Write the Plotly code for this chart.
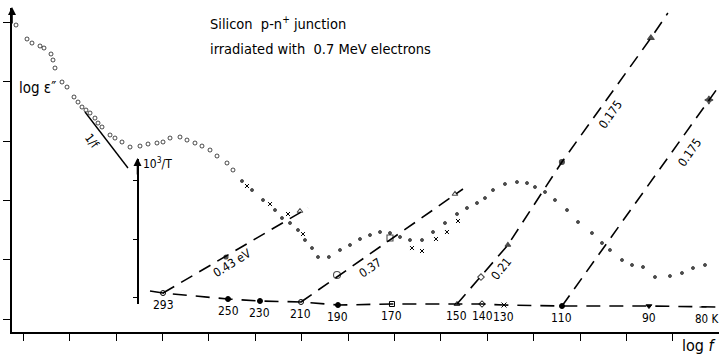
import plotly.graph_objects as go

W, H = 719, 356
FONT = "Liberation Sans Narrow, DejaVu Sans Condensed, Roboto, sans-serif"

# ---------------------------------------------------------------
# Dielectric loss spectrum: log eps'' against log f (decades, arbitrary origin)
# ---------------------------------------------------------------
loss_logf = [-0.157, 0.080, 0.187, 0.360, 0.446, 0.597, 0.640, 0.683, 0.834, 0.942,
             1.093, 1.179, 1.265, 1.351, 1.438, 1.545, 1.610, 1.696, 1.869, 1.976,
             2.127, 2.300, 2.515, 2.688, 2.881, 3.011, 3.162, 3.377, 3.528, 3.700,
             3.851, 4.024, 4.175, 4.390, 4.519, 4.713, 4.929, 5.166, 5.425, 5.575,
             5.748, 5.920, 6.071, 6.222, 6.351, 6.586, 6.825, 7.041, 7.256, 7.472,
             7.688, 7.903, 8.119, 8.334, 8.593, 8.830, 9.088, 9.347, 9.562, 9.778,
             9.950, 10.123, 10.381, 10.640, 10.856, 11.028, 11.244, 11.459, 11.718, 11.955,
             12.256, 12.472, 12.644, 12.903, 13.119, 13.356, 13.614, 13.937, 14.196, 14.433,
             14.692]
loss_logeps = [4.958, 4.722, 4.654, 4.604, 4.570, 4.469, 4.368, 4.233, 3.997, 3.912,
               3.744, 3.659, 3.575, 3.524, 3.474, 3.389, 3.305, 3.238, 3.103, 3.052,
               2.985, 2.900, 2.917, 2.951, 2.968, 2.985, 3.052, 3.069, 3.018, 2.968,
               2.917, 2.850, 2.749, 2.631, 2.513, 2.327, 2.175, 2.007, 1.838, 1.703,
               1.619, 1.501, 1.332, 1.197, 1.046, 1.046, 1.164, 1.248, 1.349, 1.416,
               1.467, 1.450, 1.383, 1.332, 1.332, 1.467, 1.619, 1.771, 1.872, 1.956,
               2.040, 2.175, 2.277, 2.310, 2.293, 2.226, 2.142, 2.007, 1.838, 1.636,
               1.450, 1.282, 1.164, 0.995, 0.911, 0.877, 0.708, 0.725, 0.776, 0.860,
               0.911]

# second run of measurements scattered around the main curve
extra_logf = [4.821, 5.317, 5.705, 6.028, 8.377, 8.593, 8.894, 9.131, 9.369]
extra_logeps = [2.243, 1.939, 1.771, 1.433, 1.197, 1.147, 1.349, 1.467, 1.653]

# 1/f reference slope
slope_logf = [1.330, 2.256]
slope_logeps = [3.491, 2.546]

# ---------------------------------------------------------------
# Arrhenius construction: temperature scale and activation lines
# ---------------------------------------------------------------
temp_K = [293, 250, 230, 210, 190, 170, 150, 140, 130, 110, 90, 80]
temp_logf = [3.011, 4.412, 5.101, 5.985, 6.782, 7.946, 9.347, 9.886, 10.360, 11.610, 13.485, 14.649]
temp_level = [0.438, 0.337, 0.304, 0.287, 0.236, 0.253, 0.253, 0.253, 0.236, 0.219, 0.219, 0.202]
temp_text = ["293", "250", "230", "210", "190", "170", "150", "140", "130", "110", "90", "80 K"]
scale_start = (2.731, 0.472)
scale_end = (14.994, 0.202)

# activation energy lines (eV) and the points they were fitted through
line_043_logf = [3.011, 6.136]
line_043_y = [0.438, 1.872]
line_037_logf = [5.985, 9.476]
line_037_y = [0.287, 2.192]
line_021_logf = [9.347, 10.444, 11.608, 13.526, 13.892]
line_021_y = [0.253, 1.248, 2.648, 4.739, 5.160]
line_0175_logf = [11.610, 14.776, 15.058]
line_0175_y = [0.219, 3.693, 3.997]

fit_logf = [4.369, 5.963, 6.761, 7.903, 9.304, 9.864, 10.444, 11.608, 13.526, 14.776]
fit_y = [1.046, 1.821, 0.742, 1.366, 2.108, 0.708, 1.248, 2.648, 4.739, 3.693]

x_ticks = list(range(0, 15))
y_ticks = list(range(0, 6))
invT_ticks = [1, 2, 3]

fig = go.Figure()

# activation lines
dash = "13px,8px"
for xs, ys in [(line_043_logf, line_043_y), (line_037_logf, line_037_y),
               (line_021_logf, line_021_y), (line_0175_logf, line_0175_y)]:
    fig.add_trace(go.Scatter(x=xs, y=ys, mode="lines",
                             line=dict(color="black", width=1.6, dash=dash),
                             hoverinfo="skip", showlegend=False))

# temperature scale
fig.add_trace(go.Scatter(x=[scale_start[0]] + temp_logf + [scale_end[0]],
                         y=[scale_start[1]] + temp_level + [scale_end[1]],
                         mode="lines", line=dict(color="black", width=1.6, dash="14px,9px"),
                         hoverinfo="skip", showlegend=False))
temp_symbols = ["circle-open", "circle", "circle", "circle-open", "circle", "square-open",
                "triangle-up-open", "diamond-open", "x-thin-open", "circle", "triangle-down",
                "line-ew-open"]
fig.add_trace(go.Scatter(x=temp_logf, y=temp_level, mode="markers",
                         marker=dict(symbol=temp_symbols, size=5, color="black",
                                     line=dict(color="black", width=1)),
                         hoverinfo="skip", showlegend=False))

fit_symbols = ["circle", "triangle-up-open", "circle-open", "square-open", "triangle-up-open",
               "diamond-open", "triangle-up", "circle-dot", "triangle-up", "star-diamond"]
fit_sizes = [4, 5, 7, 6, 5, 5, 5, 5, 6, 6]
fig.add_trace(go.Scatter(x=fit_logf, y=fit_y, mode="markers",
                         marker=dict(symbol=fit_symbols, size=fit_sizes, color="black",
                                     line=dict(color="black", width=1.1)),
                         hoverinfo="skip", showlegend=False))

# 1/f slope
fig.add_trace(go.Scatter(x=slope_logf, y=slope_logeps, mode="lines",
                         line=dict(color="black", width=1.4),
                         hoverinfo="skip", showlegend=False))

# loss spectrum
n_open = 35
loss_symbols = ["circle-open"] * n_open + ["circle"] * (len(loss_logf) - n_open)
loss_sizes = [4] * n_open + [3] * (len(loss_logf) - n_open)
fig.add_trace(go.Scatter(x=loss_logf, y=loss_logeps, mode="markers",
                         marker=dict(symbol=loss_symbols, size=loss_sizes, color="black",
                                     line=dict(color="black", width=1)),
                         hoverinfo="skip", showlegend=False))
fig.add_trace(go.Scatter(x=extra_logf, y=extra_logeps, mode="markers",
                         marker=dict(symbol="x-thin-open", size=4, color="black",
                                     line=dict(color="black", width=1)),
                         hoverinfo="skip", showlegend=False))

# carrier trace for the inner 10^3/T axis
fig.add_trace(go.Scatter(x=[], y=[], xaxis="x", yaxis="y2", showlegend=False))

ann = []
txt = dict(color="black", family=FONT)

# temperature labels under the scale
for xv, yv, t in zip(temp_logf, temp_level, temp_text):
    last = t.endswith("K")
    ann.append(dict(x=xv, y=yv, xref="x", yref="y", text=t, showarrow=False,
                    xanchor="left" if last else "center", xshift=-10 if last else 0,
                    yshift=-12, font=dict(size=11.5 if last else 12, **txt)))

# activation energy labels, placed part way along each line
def along(xs, ys, i, frac):
    return xs[i] + frac * (xs[i + 1] - xs[i]), ys[i] + frac * (ys[i + 1] - ys[i])

for (xs, ys, i, frac, label, ang, dx, dy) in [
        (line_043_logf, line_043_y, 0, 0.45, "0.43 eV", -32, 4, -8),
        (line_037_logf, line_037_y, 0, 0.42, "0.37", -35, 1, -13),
        (line_021_logf, line_021_y, 0, 0.55, "0.21", -52, 16, 3),
        (line_021_logf, line_021_y, 2, 0.45, "0.175", -55, 9, -8),
        (line_0175_logf, line_0175_y, 0, 0.75, "0.175", -55, 17, -1)]:
    ax_, ay_ = along(xs, ys, i, frac)
    ann.append(dict(x=ax_, y=ay_, xref="x", yref="y", text=label, showarrow=False,
                    textangle=ang, xshift=dx, yshift=dy, font=dict(size=12, **txt)))

ann.append(dict(x=(slope_logf[0] + slope_logf[1]) / 2, y=(slope_logeps[0] + slope_logeps[1]) / 2,
                xref="x", yref="y", text="1/f", showarrow=False, textangle=52,
                xshift=-14, yshift=-2, font=dict(size=12, **txt)))

# titles and axis names
ann.append(dict(x=3.985, y=4.992, xref="x", yref="y", xanchor="left",
                text="Silicon  p-n<sup>+</sup> junction", showarrow=False,
                font=dict(size=14.5, **txt)))
ann.append(dict(x=3.985, y=4.553, xref="x", yref="y", xanchor="left",
                text="irradiated with  0.7 MeV electrons", showarrow=False,
                font=dict(size=14.5, **txt)))
ann.append(dict(x=-0.14, y=3.895, xref="x", yref="y", xanchor="left",
                text="log ε″", showarrow=False, font=dict(size=15, **txt)))
ann.append(dict(x=680 / W, y=(H - 345) / H, xref="paper", yref="paper",
                xanchor="left", yanchor="middle",
                text="log <i>f</i>", showarrow=False, font=dict(size=16, **txt)))
ann.append(dict(x=141 / W, y=(H - 163) / H, xref="paper", yref="paper",
                xanchor="left", yanchor="middle",
                text="10<sup>3</sup>/T", showarrow=False, font=dict(size=12, **txt)))

# arrow heads on the vertical axes
ann.append(dict(x=12 / W, y=(H - 7) / H, xref="paper", yref="paper", text="",
                showarrow=True, arrowhead=2, arrowsize=1, arrowwidth=1.6, arrowcolor="black",
                ax=0, ay=18))
ann.append(dict(x=137.5 / W, y=(H - 158) / H, xref="paper", yref="paper", text="",
                showarrow=True, arrowhead=2, arrowsize=1, arrowwidth=1.6, arrowcolor="black",
                ax=0, ay=18))

fig.update_layout(
    width=W, height=H, autosize=False,
    margin=dict(l=0, r=0, t=0, b=0),
    paper_bgcolor="white", plot_bgcolor="rgba(0,0,0,0)",
    showlegend=False,
    annotations=ann,
    xaxis=dict(domain=[12 / W, 1], range=[-0.2435, 14.994], showgrid=False, zeroline=False,
               showline=True, linecolor="black", linewidth=2.2,
               tickvals=x_ticks, ticks="outside", ticklen=7, tickwidth=1.4, tickcolor="black",
               showticklabels=False, fixedrange=True),
    yaxis=dict(domain=[24 / H, 348 / H], range=[-0.219, 5.245], showgrid=False, zeroline=False,
               showline=True, linecolor="black", linewidth=2.2,
               tickvals=y_ticks, ticks="outside", ticklen=7, tickwidth=1.4, tickcolor="black",
               showticklabels=False, fixedrange=True),
    yaxis2=dict(domain=[52 / H, 197 / H], range=[0.897, 3.376], anchor="free",
                position=137.5 / W, showgrid=False, zeroline=False,
                showline=True, linecolor="black", linewidth=2,
                tickvals=invT_ticks, ticks="outside", ticklen=4, tickwidth=1.2,
                tickcolor="black", showticklabels=False, fixedrange=True),
)

fig.write_html("out.html")
